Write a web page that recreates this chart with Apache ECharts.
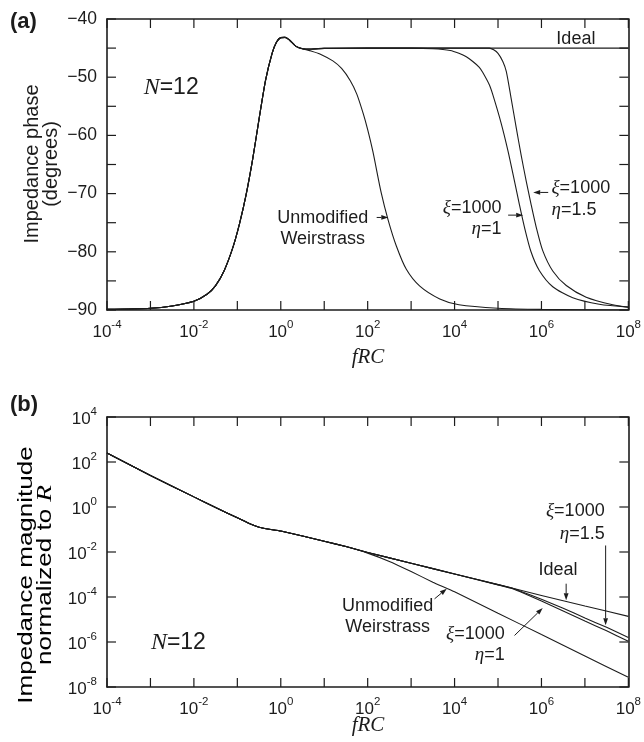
<!DOCTYPE html>
<html><head><meta charset="utf-8">
<script src="https://cdn.jsdelivr.net/npm/echarts@6/dist/echarts.min.js"></script>
<style>html,body{margin:0;padding:0;background:#fff}#c{width:644px;height:742px}</style>
</head><body><div id="c"></div>
<script>
// ---------- Panel (a): impedance phase (degrees) vs fRC ----------
const phaseLowF = [1e-4, 1e-3, 3.16e-3, 1e-2, 2e-2, 3.16e-2, 5e-2, 7.94e-2, 0.112, 0.158, 0.224, 0.316, 0.447, 0.631, 0.794, 1, 1.26, 1.58, 2.24, 3.16];
const phaseLow  = [-89.9, -89.7, -89.3, -88.5, -87.3, -85.8, -83.2, -79.2, -75.2, -70.3, -64.2, -57.2, -50.5, -45.9, -44.0, -43.2, -43.15, -43.6, -44.7, -45.1];
const phaseIdealF = [5.01, 10, 31.6, 1e8];
const phaseIdeal  = [-45.2, -45.05, -45.0, -45.0];
const phaseUnmodF = [5.01, 7.94, 15.8, 25.1, 39.8, 56.2, 79.4, 100, 132, 204, 295, 457, 776, 1585, 4571, 12589, 1e5, 1e6, 1e8];
const phaseUnmod  = [-45.5, -46.0, -47.2, -48.5, -50.6, -52.9, -56.3, -59.0, -62.8, -69.8, -74.5, -79.0, -83.0, -85.9, -88.1, -89.1, -89.7, -89.9, -90.0];
const phaseXi1F = [5.01, 10, 100, 1000, 3162, 7943, 12589, 18621, 26303, 37154, 44668, 63096, 75858, 1.17e5, 1.70e5, 2.40e5, 3.09e5, 4.07e5, 5.75e5, 8.91e5, 1.82e6, 5.25e6, 2.14e7, 1e8];
const phaseXi1  = [-45.15, -45.05, -45.0, -45.0, -45.1, -45.4, -45.9, -46.5, -47.3, -48.3, -49.2, -51.3, -53.0, -57.8, -62.7, -67.9, -71.8, -75.8, -80.0, -83.2, -86.0, -87.9, -89.0, -89.5];
const phaseXi15F = [5.01, 10, 100, 63096, 79433, 1e5, 1.29e5, 1.55e5, 2.0e5, 2.63e5, 3.39e5, 4.47e5, 5.75e5, 7.59e5, 1.07e6, 1.82e6, 3.72e6, 1.07e7, 4.37e7, 1e8];
const phaseXi15  = [-45.15, -45.05, -45.0, -45.0, -45.3, -45.9, -47.3, -49.0, -53.6, -58.7, -63.3, -67.9, -71.8, -75.8, -79.8, -83.3, -85.8, -87.8, -89.1, -89.5];

// ---------- Panel (b): impedance magnitude normalized to R vs fRC ----------
const magLowF = [1e-4, 1e-3, 1e-2, 3.16e-2, 0.1, 0.2, 0.316, 0.5, 1, 10, 31.6];
const magLow  = [251, 25.1, 2.82, 0.955, 0.331, 0.174, 0.126, 0.105, 0.0851, 0.0302, 0.0174];
const magIdealF = [100, 1e3, 1e4, 1e5, 1e6, 1e7, 1e8];
const magIdeal  = [9.55e-3, 3.16e-3, 1.05e-3, 3.55e-4, 1.17e-4, 3.98e-5, 1.38e-5];
const magXi15F = [100, 1e3, 1e4, 1e5, 2e5, 3.16e5, 1e6, 3.16e6, 1e7, 3.16e7, 1e8];
const magXi15  = [9.55e-3, 3.16e-3, 1.05e-3, 3.55e-4, 2.57e-4, 1.86e-4, 7.94e-5, 3.16e-5, 1.17e-5, 4.47e-6, 1.58e-6];
const magXi1F = [100, 1e3, 1e4, 1e5, 2e5, 3.16e5, 1e6, 3.16e6, 1e7, 3.16e7, 1e8];
const magXi1  = [9.55e-3, 3.16e-3, 1.05e-3, 3.47e-4, 2.45e-4, 1.74e-4, 6.61e-5, 2.40e-5, 8.51e-6, 3.16e-6, 1.07e-6];
const magUnmodF = [100, 316, 1e3, 3162, 1e4, 1e5, 1e6, 1e7, 1e8];
const magUnmod  = [8.91e-3, 3.80e-3, 1.35e-3, 4.57e-4, 1.70e-4, 1.91e-5, 2.14e-6, 2.40e-7, 2.69e-8];

// ---------- tick values ----------
const xTicks = [1e-4, 1e-3, 1e-2, 1e-1, 1, 10, 100, 1e3, 1e4, 1e5, 1e6, 1e7, 1e8];
const phaseTicks = [-90, -85, -80, -75, -70, -65, -60, -55, -50, -45, -40];
const magTicks = [1e-8, 1e-6, 1e-4, 1e-2, 1, 1e2, 1e4];
const xMin = 1e-4, xMax = 1e8;
const phaseMin = -90, phaseMax = -40;
const magMin = 1e-8, magMax = 1e4;

function pairs(fa, va, fb, vb) {
  const out = fa.map((f, i) => [f, va[i]]);
  fb.forEach((f, i) => out.push([f, vb[i]]));
  return out;
}

const INK = '#1c1c1c';
const SANS = '"Liberation Sans", Arial, sans-serif';
const SERIF = '"Liberation Serif", "DejaVu Serif", serif';

const tickRich = {
  b: { fontSize: 17, fontFamily: SANS, color: INK, lineHeight: 22, verticalAlign: 'bottom' },
  s: { fontSize: 11.5, fontFamily: SANS, color: INK, lineHeight: 12, verticalAlign: 'top' }
};
function powLabel(v, step) {
  const e = Math.round(Math.log10(v));
  if (e % step !== 0) return '';
  return '{b|10}{s|' + e + '}';
}
const AXLINE = { show: true, onZero: false, lineStyle: { color: INK, width: 1.6 } };

function xAxisDef(grid, pos) {
  return {
    type: 'log', logBase: 10, gridIndex: grid, position: pos, min: xMin, max: xMax, interval: 1,
    axisLine: AXLINE, axisTick: { show: false },
    axisLabel: pos === 'bottom' ? { show: true, margin: 9, formatter: v => powLabel(v, 2), rich: tickRich } : { show: false },
    splitLine: { show: false }, minorTick: { show: false }
  };
}

const option = {
  animation: false,
  backgroundColor: '#fff',
  grid: [
    { left: 107, top: 19, width: 522, height: 291 },
    { left: 107, top: 417, width: 522, height: 270 }
  ],
  xAxis: [xAxisDef(0, 'bottom'), xAxisDef(0, 'top'), xAxisDef(1, 'bottom'), xAxisDef(1, 'top')],
  yAxis: [
    { type: 'value', gridIndex: 0, position: 'left', min: phaseMin, max: phaseMax, interval: 5,
      axisLine: AXLINE, axisTick: { show: false },
      axisLabel: { margin: 10, fontSize: 17.5, fontFamily: SANS, color: INK,
        formatter: v => (v % 10 === 0 ? '\u2212' + Math.abs(v) : '') },
      splitLine: { show: false } },
    { type: 'value', gridIndex: 0, position: 'right', min: phaseMin, max: phaseMax, interval: 5,
      axisLine: AXLINE, axisTick: { show: false }, axisLabel: { show: false }, splitLine: { show: false } },
    { type: 'log', logBase: 10, gridIndex: 1, position: 'left', min: magMin, max: magMax, interval: 2,
      axisLine: AXLINE, axisTick: { show: false },
      axisLabel: { margin: 10, formatter: v => powLabel(v, 1), rich: tickRich },
      splitLine: { show: false }, minorTick: { show: false } },
    { type: 'log', logBase: 10, gridIndex: 1, position: 'right', min: magMin, max: magMax, interval: 2,
      axisLine: AXLINE, axisTick: { show: false }, axisLabel: { show: false },
      splitLine: { show: false }, minorTick: { show: false } }
  ],
  series: []
};

function lineSeries(name, data, xi, yi, sm) {
  return { name, type: 'line', data, xAxisIndex: xi, yAxisIndex: yi, showSymbol: false, symbol: 'none',
    smooth: sm, lineStyle: { color: INK, width: 1.1 }, silent: true, z: 3 };
}
option.series.push(lineSeries('Ideal', pairs(phaseLowF, phaseLow, phaseIdealF, phaseIdeal), 0, 0, 0.25));
option.series.push(lineSeries('Unmodified Weirstrass', pairs(phaseLowF, phaseLow, phaseUnmodF, phaseUnmod), 0, 0, 0.25));
option.series.push(lineSeries('ξ=1000 η=1', pairs(phaseLowF, phaseLow, phaseXi1F, phaseXi1), 0, 0, 0.25));
option.series.push(lineSeries('ξ=1000 η=1.5', pairs(phaseLowF, phaseLow, phaseXi15F, phaseXi15), 0, 0, 0.25));
option.series.push(lineSeries('Ideal |Z|', pairs(magLowF, magLow, magIdealF, magIdeal), 2, 2, 0.15));
option.series.push(lineSeries('Unmodified |Z|', pairs(magLowF, magLow, magUnmodF, magUnmod), 2, 2, 0.15));
option.series.push(lineSeries('ξ=1000 η=1 |Z|', pairs(magLowF, magLow, magXi1F, magXi1), 2, 2, 0.15));
option.series.push(lineSeries('ξ=1000 η=1.5 |Z|', pairs(magLowF, magLow, magXi15F, magXi15), 2, 2, 0.15));

const chart = echarts.init(document.getElementById('c'), null, { renderer: 'canvas' });
chart.setOption(option);

const graphics = [];
const px = (xi, yi, v) => chart.convertToPixel({ xAxisIndex: xi, yAxisIndex: yi }, v);

// ---------- inside tick marks on all four sides (positions from the axis scales) ----------
const TL = 9;
function addTicks(xi, yi, yMinV, yMaxV, yTicks) {
  xTicks.forEach(t => {
    const b = px(xi, yi, [t, yMinV]), top = px(xi, yi, [t, yMaxV]);
    graphics.push({ type: 'line', z: 5, shape: { x1: b[0], y1: b[1], x2: b[0], y2: b[1] - TL }, style: { stroke: INK, lineWidth: 1.2 } });
    graphics.push({ type: 'line', z: 5, shape: { x1: top[0], y1: top[1], x2: top[0], y2: top[1] + TL }, style: { stroke: INK, lineWidth: 1.2 } });
  });
  yTicks.forEach(t => {
    const l = px(xi, yi, [xMin, t]), r = px(xi, yi, [xMax, t]);
    graphics.push({ type: 'line', z: 5, shape: { x1: l[0], y1: l[1], x2: l[0] + TL, y2: l[1] }, style: { stroke: INK, lineWidth: 1.2 } });
    graphics.push({ type: 'line', z: 5, shape: { x1: r[0], y1: r[1], x2: r[0] - TL, y2: r[1] }, style: { stroke: INK, lineWidth: 1.2 } });
  });
}
addTicks(0, 0, phaseMin, phaseMax, phaseTicks);
addTicks(2, 2, magMin, magMax, magTicks);

// ---------- annotations anchored in data space ----------
const annRich = {
  g: { fontFamily: SERIF, fontStyle: 'italic', fontSize: 19, color: INK },
  t: { fontFamily: SANS, fontSize: 18, color: INK },
  N: { fontFamily: SERIF, fontStyle: 'italic', fontSize: 24, color: INK },
  n: { fontFamily: SANS, fontSize: 23, color: INK }
};
const textsA = [
  { s: '{t|Ideal}', at: [6.2e6, -43.5], align: 'center' },
  { s: '{N|N}{n|=12}', at: [3.0e-3, -51.8], align: 'center' },
  { s: '{t|Unmodified}', at: [9.25, -74.2], align: 'center' },
  { s: '{t|Weirstrass}', at: [9.25, -77.8], align: 'center' },
  { s: '{g|ξ}{t|=1000}', at: [1.2e5, -72.5], align: 'right' },
  { s: '{g|η}{t|=1}', at: [1.2e5, -76.1], align: 'right' },
  { s: '{g|ξ}{t|=1000}', at: [1.7e6, -69.1], align: 'left' },
  { s: '{g|η}{t|=1.5}', at: [1.7e6, -72.8], align: 'left' }
];
const arrowsA = [
  [[161, -74.1], [299, -74.1]],
  [[1.71e5, -73.7], [3.8e5, -73.7]],
  [[1.43e6, -69.8], [6.46e5, -69.8]]
];
const textsB = [
  { s: '{N|N}{n|=12}', at: [4.4e-3, 9.3e-7], align: 'center' },
  { s: '{g|ξ}{t|=1000}', at: [2.85e7, 0.684], align: 'right' },
  { s: '{g|η}{t|=1.5}', at: [2.85e7, 0.060], align: 'right' },
  { s: '{t|Ideal}', at: [2.4e6, 1.51e-3], align: 'center' },
  { s: '{t|Unmodified}', at: [288, 3.8e-5], align: 'center' },
  { s: '{t|Weirstrass}', at: [288, 4.4e-6], align: 'center' },
  { s: '{g|ξ}{t|=1000}', at: [1.43e5, 2.19e-6], align: 'right' },
  { s: '{g|η}{t|=1}', at: [1.43e5, 2.57e-7], align: 'right' }
];
const arrowsB = [
  [[3.0e7, 0.0195], [3.0e7, 5.5e-6]],
  [[3.7e6, 3.9e-4], [3.7e6, 7.1e-5]],
  [[3467, 8.3e-5], [6607, 2.34e-4]],
  [[2.4e5, 1.95e-6], [1.07e6, 3.24e-5]]
];

function addTexts(list, xi, yi) {
  list.forEach(a => {
    const p = px(xi, yi, a.at);
    graphics.push({ type: 'text', x: p[0], y: p[1], z: 10,
      style: { text: a.s, rich: annRich, align: a.align, verticalAlign: 'middle', textAlign: a.align, textVerticalAlign: 'middle', fill: INK } });
  });
}
function addArrows(list, xi, yi) {
  list.forEach(ar => {
    const p0 = px(xi, yi, ar[0]);
    const p1 = px(xi, yi, ar[1]);
    const dx = p1[0] - p0[0], dy = p1[1] - p0[1];
    const L = Math.hypot(dx, dy), ux = dx / L, uy = dy / L;
    const hl = 7, hw = 2.4;
    const bx = p1[0] - ux * hl, by = p1[1] - uy * hl;
    graphics.push({ type: 'line', z: 10, shape: { x1: p0[0], y1: p0[1], x2: bx, y2: by }, style: { stroke: INK, lineWidth: 1 } });
    graphics.push({ type: 'polygon', z: 10, shape: { points: [[p1[0], p1[1]], [bx - uy * hw, by + ux * hw], [bx + uy * hw, by - ux * hw]] }, style: { fill: INK } });
  });
}
addTexts(textsA, 0, 0); addArrows(arrowsA, 0, 0);
addTexts(textsB, 2, 2); addArrows(arrowsB, 2, 2);

// panel tags and axis titles
graphics.push({ type: 'text', x: 10, y: 22, style: { text: '(a)', font: 'bold 22px ' + SANS, fill: INK, textVerticalAlign: 'middle', verticalAlign: 'middle' } });
graphics.push({ type: 'text', x: 10, y: 405, style: { text: '(b)', font: 'bold 22px ' + SANS, fill: INK, textVerticalAlign: 'middle', verticalAlign: 'middle' } });
graphics.push({ type: 'text', x: 42, y: 164, rotation: Math.PI / 2,
  style: { text: 'Impedance phase\n(degrees)', font: '20px ' + SANS, fill: INK, lineHeight: 19, align: 'center', textAlign: 'center', verticalAlign: 'middle', textVerticalAlign: 'middle' } });
graphics.push({ type: 'text', x: 36, y: 575, rotation: Math.PI / 2, scaleX: 1.3,
  style: { text: '{t|Impedance magnitude}\n{t|normalized to }{r|R}', lineHeight: 19, align: 'center', textAlign: 'center', verticalAlign: 'middle', textVerticalAlign: 'middle',
    rich: { t: { fontFamily: SANS, fontSize: 20, color: INK, lineHeight: 19 }, r: { fontFamily: SERIF, fontStyle: 'italic', fontSize: 21, color: INK, lineHeight: 19 } } } });
graphics.push({ type: 'text', x: 368, y: 357, style: { text: 'fRC', font: 'italic 21px ' + SERIF, fill: INK, align: 'center', textAlign: 'center', verticalAlign: 'middle', textVerticalAlign: 'middle' } });
graphics.push({ type: 'text', x: 368, y: 725, style: { text: 'fRC', font: 'italic 21px ' + SERIF, fill: INK, align: 'center', textAlign: 'center', verticalAlign: 'middle', textVerticalAlign: 'middle' } });

chart.setOption({ graphic: graphics });
</script>
</body></html>
